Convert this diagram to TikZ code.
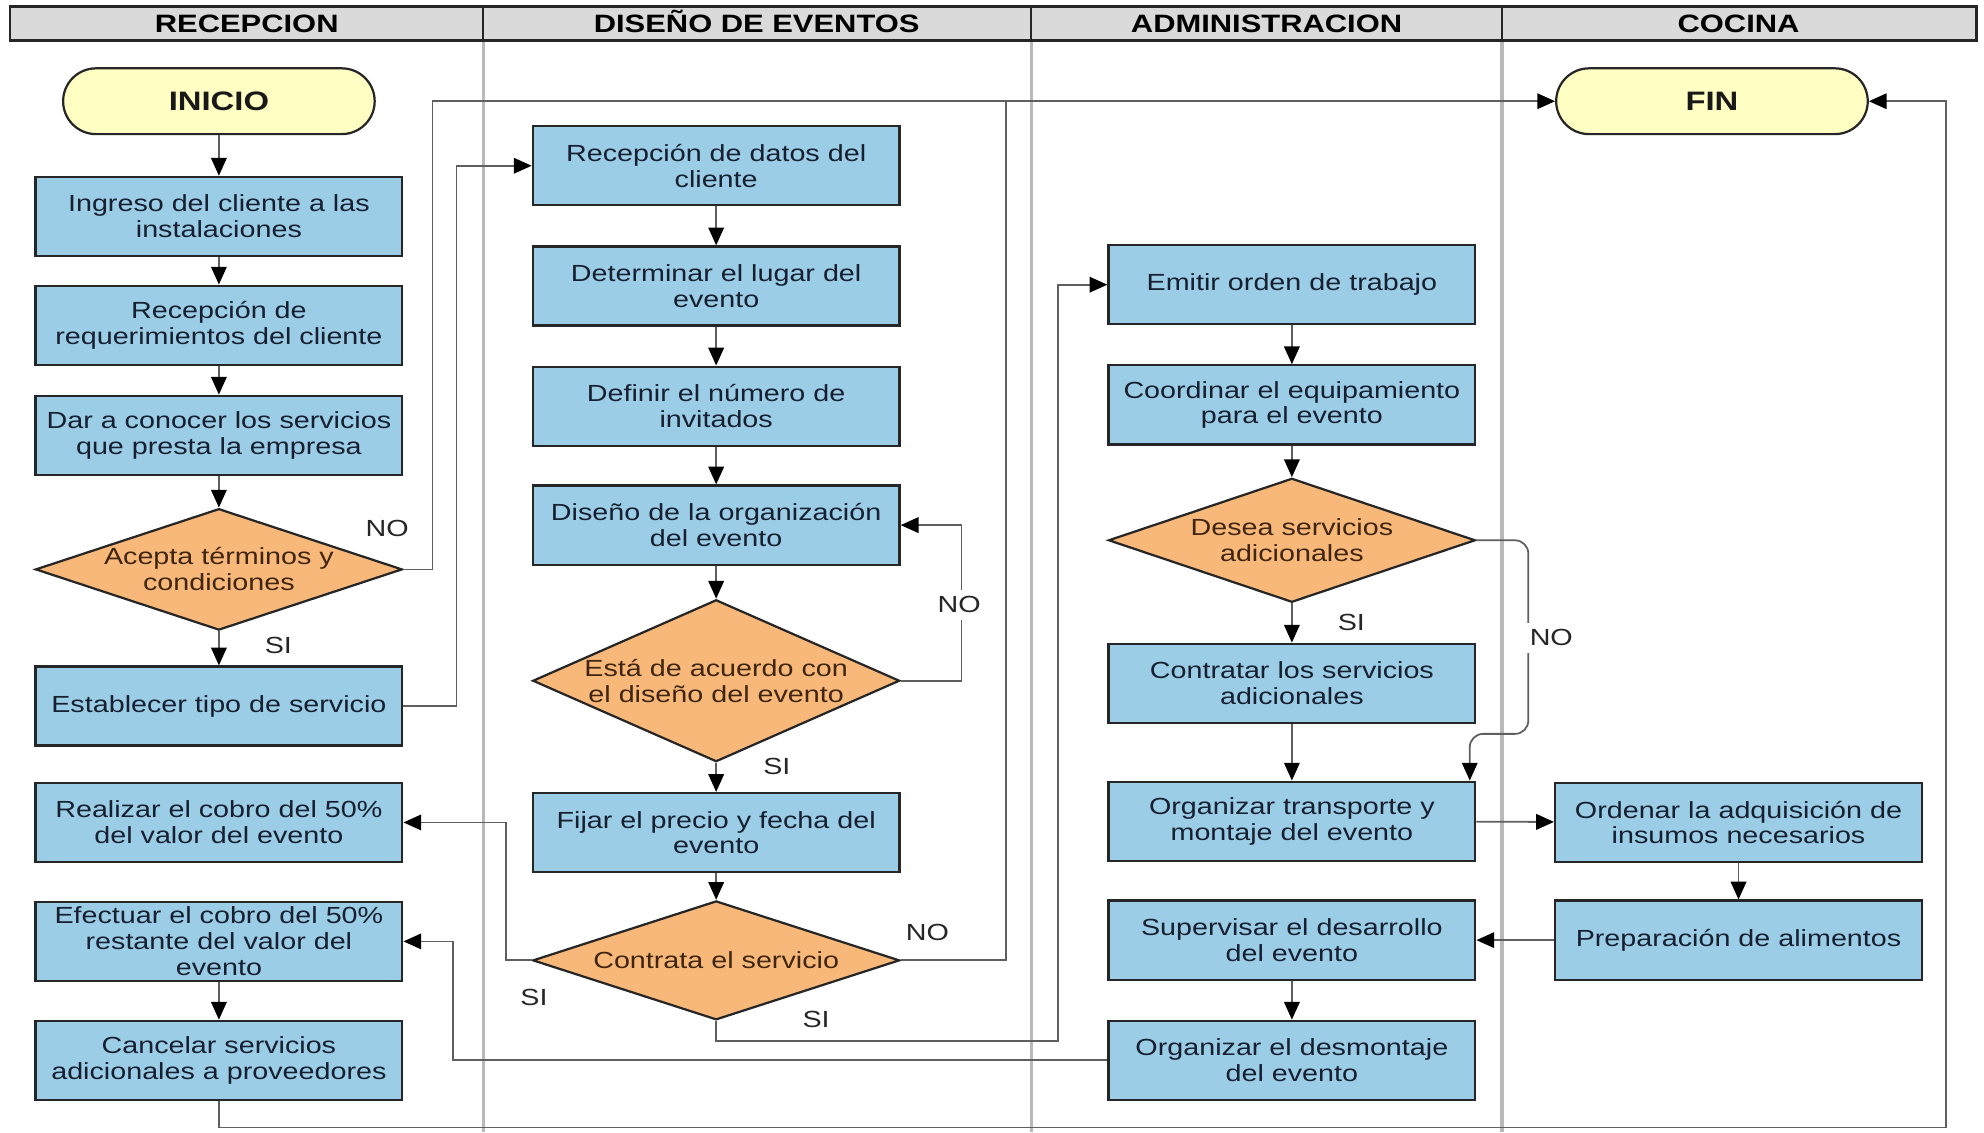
\documentclass[tikz,border=0pt]{standalone}
\usepackage{fontspec}
\setmainfont{Liberation Sans}[FakeStretch=1.23]
\usetikzlibrary{shapes.geometric,shapes.misc,arrows.meta}
\definecolor{boxblue}{RGB}{156,205,230}
\definecolor{boxtext}{RGB}{22,32,48}
\definecolor{decfill}{RGB}{248,184,122}
\definecolor{dectext}{RGB}{64,38,16}
\definecolor{termfill}{RGB}{255,255,196}
\definecolor{headfill}{RGB}{218,218,218}
\definecolor{lanegray}{RGB}{185,185,185}
\definecolor{linegray}{RGB}{95,95,95}
\tikzset{
  proc/.style={rectangle,draw=black!85,line width=1pt,fill=boxblue,text=boxtext,minimum width=5.8cm,minimum height=1.25cm,align=center,inner sep=1pt,font=\fontsize{10.5}{11.6}\selectfont},
  term/.style={rounded rectangle,draw=black!85,line width=1pt,fill=termfill,text=black!90,minimum width=5.16cm,minimum height=1.04cm,font=\fontsize{12}{14}\selectfont\bfseries},
  decision/.style={diamond,draw=black!85,line width=1pt,fill=decfill,inner sep=0pt,minimum width=5.8cm},
  dectxt/.style={text=dectext,align=center,font=\fontsize{10.5}{11.6}\selectfont},
  flow/.style={draw=linegray,line width=0.8pt,-{Triangle[length=8pt,width=7pt,color=black]}},
  cond/.style={font=\fontsize{10.5}{12}\selectfont,text=black!85},
  lanehead/.style={anchor=base,font=\fontsize{11.3}{13}\selectfont\bfseries}
}
\begin{document}
\begin{tikzpicture}[x=0.02cm,y=-0.02cm]
\useasboundingbox (0,0) rectangle (1568,895);
% carriles
\foreach \x in {382,815,1187} \draw[lanegray,line width=1.5pt] (\x,32) -- (\x,895);
\draw[black!85,line width=1.1pt,fill=headfill] (8,5) rectangle (1562,32);
\foreach \x in {382,815,1187} \draw[black!85,line width=1pt] (\x,5) -- (\x,32);
\node[lanehead] (h1) at (195,25.5) {RECEPCION};
\node[lanehead] (h2) at (598,25.5) {DISEÑO DE EVENTOS};
\node[lanehead] (h3) at (1001,25.5) {ADMINISTRACION};
\node[lanehead] (h4) at (1374,25.5) {COCINA};
% inicio y fin
\node[term] (inicio) at (173,80) {INICIO};
\node[term] (fin) at (1353,80) {FIN};
\begin{scope}[every node/.style=proc]
% recepcion
\node (ingreso) at (173,171) {Ingreso del cliente a las\\instalaciones};
\node (recreq) at (173,257) {Recepción de\\requerimientos del cliente};
\node (conocer) at (173,344) {Dar a conocer los servicios\\que presta la empresa};
\node (establ) at (173,558) {Establecer tipo de servicio};
\node (cobro1) at (173,650) {Realizar el cobro del 50\%\\del valor del evento};
\node (cobro2) at (173,744) {Efectuar el cobro del 50\%\\restante del valor del\\evento};
\node (cancel) at (173,838) {Cancelar servicios\\adicionales a proveedores};
% diseno de eventos
\node (recdat) at (566,131) {Recepción de datos del\\cliente};
\node (lugar) at (566,226) {Determinar el lugar del\\evento};
\node (invit) at (566,321) {Definir el número de\\invitados};
\node (disorg) at (566,415) {Diseño de la organización\\del evento};
\node (fijar) at (566,658) {Fijar el precio y fecha del\\evento};
% administracion
\node (emitir) at (1021,225) {Emitir orden de trabajo};
\node (coord) at (1021,320) {Coordinar el equipamiento\\para el evento};
\node (contr) at (1021,540) {Contratar los servicios\\adicionales};
\node (orgtra) at (1021,649) {Organizar transporte y\\montaje del evento};
\node (superv) at (1021,743) {Supervisar el desarrollo\\del evento};
\node (desmont) at (1021,838) {Organizar el desmontaje\\del evento};
% cocina
\node (ordenar) at (1374,650) {Ordenar la adquisición de\\insumos necesarios};
\node (prepar) at (1374,743) {Preparación de alimentos};
\end{scope}
% decisiones
\node[decision,minimum height=1.92cm,label={[dectxt]center:{Acepta términos y\\condiciones}}] (acepta) at (173,450) {};
\node[decision,minimum height=2.56cm,label={[dectxt]center:{Está de acuerdo con\\el diseño del evento}}] (esta) at (566,538) {};
\node[decision,minimum height=1.88cm,label={[dectxt]center:{Contrata el servicio}}] (contrata) at (566,759) {};
\node[decision,minimum height=1.96cm,label={[dectxt]center:{Desea servicios\\adicionales}}] (desea) at (1021,427) {};
% flechas
\foreach \a/\b in {inicio/ingreso,ingreso/recreq,recreq/conocer,conocer/acepta,acepta/establ,cobro2/cancel,
  recdat/lugar,lugar/invit,invit/disorg,disorg/esta,esta/fijar,fijar/contrata,
  emitir/coord,coord/desea,desea/contr,contr/orgtra,superv/desmont,ordenar/prepar}
  \draw[flow] (\a.south) -- (\b.north);
\draw[flow] (orgtra) -- (ordenar);
\draw[flow] (prepar) -- (superv);
\coordinate (junta) at (795,80);
\draw[flow] (acepta.east) -- ++(23,0) |- (fin.west);
\draw[draw=linegray,line width=0.8pt] (contrata.east) -| (junta);
\draw[flow] (establ.east) -- ++(42,0) |- (recdat.west);
\draw[flow] (esta.east) -- ++(48,0) |- (disorg.east);
\draw[flow] (contrata.west) -- ++(-20,0) |- (cobro1.east);
\draw[flow] (contrata.south) -- ++(0,16) -- ++(270,0) |- (emitir.west);
\draw[flow,rounded corners=6] (desea.east) -- ++(41,0) -- ++(0,153) -| ([xshift=-3pt]orgtra.north east);
\draw[flow] (desmont.west) -- ++(-517,0) |- (cobro2.east);
\draw[flow] (cancel.south) -- ++(0,21) -- ++(1365,0) |- (fin.east);
% etiquetas
\node[cond] (no1) at (306,418) {NO};
\node[cond] (si1) at (220,510) {SI};
\node[cond,fill=white,inner xsep=2pt,inner ysep=3pt] (no2) at (758,478) {NO};
\node[cond] (si2) at (614,606) {SI};
\node[cond] (si3) at (422,788) {SI};
\node[cond] (no3) at (733,737) {NO};
\node[cond] (si4) at (645,806) {SI};
\node[cond] (si5) at (1068,492) {SI};
\node[cond,fill=white,inner xsep=3pt,inner ysep=3pt] (no4) at (1226,504) {NO};
\end{tikzpicture}
\end{document}
